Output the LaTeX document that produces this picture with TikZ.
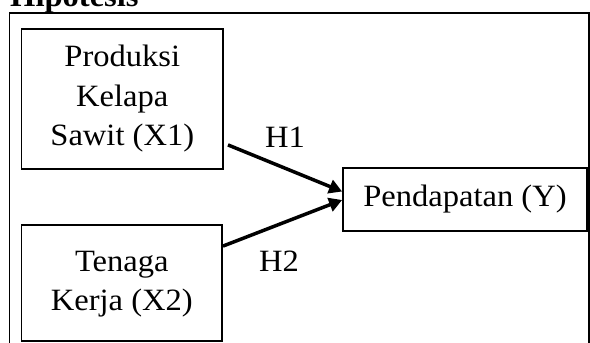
\documentclass[tikz,border=0pt]{standalone}
\usepackage{fontspec}
\setmainfont{Liberation Serif}[FakeStretch=1.05]
\usepackage{tikz}
\usetikzlibrary{arrows.meta,positioning,calc}

\begin{document}
\begin{tikzpicture}[x=1pt,y=-1pt,
  varbox/.style={draw,line width=1.8pt,align=center,inner sep=0pt,
    font=\fontsize{31}{39.5}\selectfont},
  hlabel/.style={font=\fontsize{31}{39.5}\selectfont,inner sep=0pt},
  panah/.style={line width=3.5pt,-{Triangle[length=13pt,width=14pt]}}]
\clip (0,0) rectangle (590,343);

% Title
\node[anchor=base west,inner sep=0pt,font=\fontsize{31}{37}\selectfont\bfseries] (judul) at (10,6) {Hipotesis};

% Frame
\draw[line width=1.6pt] (9.5,12.7) rectangle (589,380);

% Variables
\node[varbox,minimum width=201.5pt,minimum height=140pt] (x1) at (122.3,99) {Produksi\\Kelapa\\Sawit (X1)};
\node[varbox,minimum width=200.5pt,minimum height=116pt] (x2) at (121.8,283) {\raisebox{7pt}{\begin{tabular}{@{}c@{}}Tenaga\\Kerja (X2)\end{tabular}}};
\node[varbox,minimum width=244pt,minimum height=63pt] (y) at (465,199.5) {Pendapatan (Y)};

% Arrows
\draw[panah] ([xshift=4pt,yshift=25pt]x1.south east) -- ([yshift=8pt]y.west);
\draw[panah] ([yshift=-22pt]x2.north east) -- ([yshift=-0.5pt]y.west);

% Hypothesis labels
\node[hlabel] (h1) at (285,137.5) {H1};
\node[hlabel] (h2) at (279,261.5) {H2};

\end{tikzpicture}
\end{document}
